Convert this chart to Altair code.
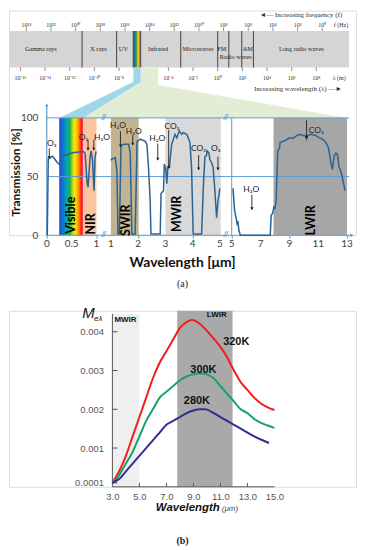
import altair as alt
import pandas as pd

# ====================== DATA ======================
# ---- (a) top strip: electromagnetic spectrum, positions as log10(wavelength / m)
strip_extent = [-16.9, 10.65]
strip_dividers = [-11.0, -8.2, -6.85, -6.25, -3.0, 0.0, 0.9, 1.95, 2.9]
strip_names = ["Gamma rays", "X rays", "UV", "Infrared", "Microwaves", "FM", "AM",
               "Radio waves", "Long radio waves"]
strip_name_at = [-14.35, -9.67, -7.65, -4.83, -1.6, 0.33, 2.43, 1.46, 6.78]
strip_name_row = [0, 0, 0, 0, 0, 0, 0, 1, 0]
freq_exps = [24, 22, 20, 18, 16, 14, 12, 10, 8, 6, 4, 2, 0]      # f = 10^n Hz
wave_exps = [-16, -14, -12, -10, -8, -4, -2, 0, 2, 4, 6, 8]       # lambda = 10^n m
visible_strip = [-6.85, -6.25]
infrared_strip = [-6.25, -4.83]

# ---- (a) atmospheric transmission, three axis segments
seg1_wl = [0.01, 0.03, 0.07, 0.11, 0.16, 0.21, 0.25, 0.30, 0.35, 0.45, 0.55, 0.65,
           0.73, 0.77, 0.81, 0.83, 0.87, 0.89, 0.92, 0.95, 0.97, 0.99, 1.0]
seg1_tr = [0, 65, 66, 67.5, 65, 62, 60.5, 66, 68, 69.5, 70.5, 71,
           71.5, 70, 45, 41, 66, 72, 64, 38, 66, 71, 71]
seg2_wl = [1.0, 1.04, 1.16, 1.22, 1.26, 1.31, 1.37, 1.47, 1.65, 1.71, 1.77, 1.89,
           1.96, 2.08, 2.26, 2.32, 2.38, 2.44, 2.47, 2.81, 2.84, 2.93, 2.96, 3.01,
           3.05, 3.09, 3.15, 3.17, 3.23, 3.35, 3.42, 3.51, 3.60, 3.66, 3.78, 3.84,
           3.90, 3.96, 4.02, 4.33, 4.39, 4.45, 4.51, 4.53, 4.60, 4.63, 4.69, 4.75,
           4.81, 4.88, 4.93, 5.0]
seg2_tr = [64, 65, 66, 55, 1, 1, 76, 77.5, 77.5, 70, 1, 1,
           80, 82, 80, 77.5, 58, 30, 1, 1, 35.6, 38, 60.7, 57,
           44, 58, 58, 64, 77.5, 86, 83, 89, 86, 87.5, 86, 83,
           79, 58, 1, 1, 40, 67, 68, 72, 70, 64.5, 62, 58,
           40, 15, 29, 40]
seg3_wl = [5.09, 5.2, 5.3, 5.37, 5.43, 5.5, 5.6, 7.67, 7.74, 7.85, 7.92, 8.01, 8.08,
           8.19, 8.31, 8.36, 8.54, 8.77, 9.0, 9.23, 9.46, 9.69, 9.92, 10.08, 10.19,
           10.26, 10.5, 10.84, 11.07, 11.3, 11.53, 11.71, 11.88, 11.99, 12.1, 12.22,
           12.33, 12.45, 12.56, 12.68, 12.86]
seg3_tr = [40, 21, 15, 10, 12, 4, 0, 0, 17, 19, 24, 23, 30,
           72, 74, 79, 80, 81, 83, 82.5, 84.5, 86, 85, 85, 82,
           85, 86, 85, 83, 82, 79, 74.6, 62, 56, 67.6, 70,
           69, 57.7, 55, 49, 38]

band_names = ["Visible", "NIR", "SWIR", "MWIR", "LWIR"]
band_from = [0.25, 0.73, 1.0, 3.0, 7.9]
band_to = [0.73, 1.0, 2.02, 5.03, 13.0]
band_seg = [1, 1, 2, 2, 3]
band_colors = ["#000000", "#fac4a0", "#c3b491", "#d9d9d9", "#a6a6a6"]
band_label_wl = [0.48, 0.88, 1.57, 3.43, 10.52]
band_label_tr = [17, 9.7, 12.7, 18.2, 12.7]

gas_text = ["O\u2083", "O\u2082", "H\u2082O", "H\u2082O", "H\u2082O", "H\u2082O",
            "CO\u2082", "CO\u2082", "O\u2083", "H\u2082O", "CO\u2082"]
gas_text_wl = [0.10, 0.74, 1.11, 1.26, 1.84, 2.70, 3.24, 4.22, 4.85, 6.36, 10.86]
gas_text_seg = [1, 1, 1, 2, 2, 2, 2, 2, 2, 3, 3]
gas_text_tr = [78.8, 83.5, 83.5, 93.8, 89.0, 83.0, 93.2, 74.0, 74.0, 39.6, 89.6]
gas_arrow_wl = [0.05, 0.83, 0.946, 1.35, 1.80, 2.72, 3.12, 4.22, 4.93, 6.40, 10.19]
gas_arrow_seg = [1, 1, 1, 2, 2, 2, 2, 2, 2, 3, 3]
gas_arrow_from = [74.0, 81.4, 81.4, 88.7, 85.3, 78.2, 89.6, 68.4, 67.0, 34.5, 98.0]
gas_arrow_to = [65.5, 72.6, 72.6, 75.4, 76.9, 64.0, 57.0, 55.7, 55.7, 21.8, 82.5]

axis_tick_wl = [0, 0.5, 1, 1, 2, 3, 4, 5, 5, 7, 9, 11, 13]
axis_tick_seg = [1, 1, 1, 2, 2, 2, 2, 2, 3, 3, 3, 3, 3]
axis_tick_text = ["0", "0.5", "1", "1", "2", "3", "4", "5", "5", "7", "9", "11", "13"]
grid_tr = [50, 100]

# ---- (b) blackbody spectral exitance
wl_320 = [3.0, 3.5, 4.0, 4.5, 5.0, 5.5, 6.0, 6.5, 7.0, 7.5, 8.0, 8.5, 8.9, 9.3, 9.8,
          10.3, 10.8, 11.4, 12.0, 12.5, 13.0, 13.5, 14.0, 14.5, 15.0]
m_320 = [0.0001, 0.0004, 0.0008, 0.0013, 0.0018, 0.0023, 0.0028, 0.0032, 0.0035,
         0.0038, 0.0041, 0.00425, 0.0043, 0.00425, 0.0041, 0.0039, 0.0037, 0.0034,
         0.0030, 0.0027, 0.0025, 0.0023, 0.00215, 0.00205, 0.00198]
wl_300 = [3.0, 3.5, 4.0, 4.5, 5.0, 5.5, 6.0, 6.5, 7.0, 7.5, 8.0, 8.5, 9.0, 9.5, 10.0,
          10.5, 11.0, 11.5, 12.0, 12.5, 13.0, 13.5, 14.0, 14.5, 15.0]
m_300 = [0.0001, 0.0003, 0.0006, 0.0009, 0.0013, 0.0017, 0.0020, 0.0023, 0.00245,
         0.0026, 0.00275, 0.00285, 0.0029, 0.00293, 0.0029, 0.0028, 0.0026, 0.0024,
         0.0022, 0.0020, 0.0019, 0.00175, 0.00165, 0.00158, 0.00152]
wl_280 = [3.0, 3.5, 4.0, 4.5, 5.0, 5.5, 6.0, 6.5, 7.0, 7.5, 8.0, 8.5, 9.0, 9.5, 9.9,
          10.5, 11.0, 11.5, 12.0, 12.5, 13.0, 13.5, 14.0, 14.6]
m_280 = [0.0001, 0.0002, 0.0004, 0.0006, 0.0008, 0.001, 0.0012, 0.0014, 0.0016,
         0.0017, 0.0018, 0.0019, 0.00197, 0.002, 0.002, 0.0019, 0.0018, 0.0017,
         0.0016, 0.0015, 0.0014, 0.0013, 0.00122, 0.00113]
curve_names = ["320K", "300K", "280K"]
curve_colors = ["#f21d1d", "#16a06c", "#2f2f8f"]
mwir_range = [3.0, 5.0]
lwir_range = [7.8, 11.9]
b_yticks = [0.0001, 0.001, 0.002, 0.003, 0.004]
b_xticks = [3, 5, 7, 9, 11, 13, 15]
b_inner_xticks = [5, 7, 9, 11, 13]

# ====================== LAYOUT HELPERS ======================
BLUE = "#5b9bd5"
SUP = str.maketrans("-0123456789", "\u207b\u2070\u00b9\u00b2\u00b3\u2074\u2075\u2076\u2077\u2078\u2079")


def pow10(n):
    return "10" + str(n).translate(SUP)


def u_strip(e):          # log10(lambda/m) -> horizontal position of panel (a)
    return 19.5 + (e + 16.0) * 12.4


def u_tr(wl, seg):       # wavelength (um) on the broken axis -> horizontal position
    if seg == 1:
        return 46 + 50 * wl
    if seg == 2:
        return 110.5 + 27.4 * (wl - 1)
    return 232 + 14.5 * (wl - 5)


S_BOT, S_TOP = 143.0, 174.0
XS = alt.Scale(domain=[8, 357], nice=False, zero=False)
YS = alt.Scale(domain=[0, 191.5], nice=False, zero=False)


def xa(f="u"):
    return alt.X(f"{f}:Q", scale=XS)


def ya(f="T"):
    return alt.Y(f"{f}:Q", scale=YS)


layers = []

# ---- strip background
strip_df = pd.DataFrame({"u": [u_strip(strip_extent[0])], "u2": [u_strip(strip_extent[1])],
                         "T": [S_BOT], "T2": [S_TOP]})
layers.append(alt.Chart(strip_df).mark_rect(color="#d5d5d5").encode(
    x=xa(), x2="u2:Q", y=ya(), y2="T2:Q"))
rb_df = pd.DataFrame({"u": [u_strip(visible_strip[0])], "u2": [u_strip(visible_strip[1])],
                      "T": [S_BOT], "T2": [S_TOP]})
strip_grad = alt.LinearGradient(gradient="linear", x1=0, x2=1, y1=0, y2=0, stops=[
    alt.GradientStop(color="#1d4f6e", offset=0), alt.GradientStop(color="#1c8a80", offset=0.3),
    alt.GradientStop(color="#48b040", offset=0.5), alt.GradientStop(color="#ece030", offset=0.65),
    alt.GradientStop(color="#f08a28", offset=0.8), alt.GradientStop(color="#d8302a", offset=1)])
layers.append(alt.Chart(rb_df).mark_rect(color=strip_grad).encode(
    x=xa(), x2="u2:Q", y=ya(), y2="T2:Q"))
div_df = pd.DataFrame({"u": [u_strip(e) for e in strip_dividers], "T": S_BOT, "T2": S_TOP})
layers.append(alt.Chart(div_df).mark_rule(color="#505050", strokeWidth=1.1).encode(
    x=xa(), y=ya(), y2="T2:Q"))
ft_df = pd.DataFrame({"u": [u_strip(8.477 - f) for f in freq_exps], "T": S_TOP, "T2": S_TOP + 3,
                      "lab": [pow10(f) for f in freq_exps]})
wt_df = pd.DataFrame({"u": [u_strip(e) for e in wave_exps], "T": S_BOT - 3, "T2": S_BOT,
                      "lab": [pow10(e) for e in wave_exps]})
for d in (ft_df, wt_df):
    layers.append(alt.Chart(d).mark_rule(color="#707070", strokeWidth=0.8).encode(
        x=xa(), y=ya(), y2="T2:Q"))
layers.append(alt.Chart(ft_df.assign(T=S_TOP + 5.5)).mark_text(
    font="Liberation Serif", fontSize=6, color="#333").encode(x=xa(), y=ya(), text="lab:N"))
layers.append(alt.Chart(wt_df.assign(T=S_BOT - 9)).mark_text(
    font="Liberation Serif", fontSize=6, color="#333").encode(x=xa(), y=ya(), text="lab:N"))
unit_df = pd.DataFrame({"u": [u_strip(10.0), u_strip(9.85)], "T": [S_TOP + 5.5, S_BOT - 9],
                        "lab": ["f (Hz)", "\u03bb (m)"]})
layers.append(alt.Chart(unit_df).mark_text(font="Liberation Serif", fontSize=6, color="#333").encode(
    x=xa(), y=ya(), text="lab:N"))
name_df = pd.DataFrame({"u": [u_strip(e) for e in strip_name_at],
                        "T": [(S_BOT + S_TOP) / 2 - 7 * r for r in strip_name_row],
                        "lab": strip_names})
layers.append(alt.Chart(name_df).mark_text(font="Liberation Serif", fontSize=6.3, color="#222").encode(
    x=xa(), y=ya(), text="lab:N"))
inc_df = pd.DataFrame({"u": [u_strip(10.1), u_strip(10.1)], "T": [188, 124.5],
                       "lab": ["\u25c4\u2014 Increasing frequency (f)",
                               "Increasing wavelength (\u03bb) \u2014\u25ba"]})
layers.append(alt.Chart(inc_df).mark_text(font="Liberation Serif", fontSize=7, color="#333",
                                          align="right").encode(x=xa(), y=ya(), text="lab:N"))

# ---- connecting wedges
k_hi, k_lo = 130.5, 128.0
uv0, uv1 = u_strip(visible_strip[0]), u_strip(visible_strip[1])
ui1 = u_strip(infrared_strip[1])
bv0, bv1 = u_tr(band_from[0], 1), u_tr(band_to[0], 1)
bir1 = u_tr(band_to[4], 3)
blue_w = pd.DataFrame({"T": [S_BOT, k_hi, 100], "u": [uv0, uv0, bv0], "u2": [uv1, uv1, bv1]})
left_at_klo = uv1 - (uv1 - bv1) * (k_hi - k_lo) / (k_hi - 100)
green_w = pd.DataFrame({"T": [S_BOT, k_hi, k_lo, 100], "u": [uv1, uv1, left_at_klo, bv1],
                        "u2": [ui1, ui1, ui1, bir1]})
layers.append(alt.Chart(green_w).mark_area(orient="horizontal", color="#e3edd6").encode(
    y=ya(), x=xa(), x2="u2:Q"))
layers.append(alt.Chart(blue_w).mark_area(orient="horizontal", color="#9fd6ea").encode(
    y=ya(), x=xa(), x2="u2:Q"))

# ---- spectral band boxes
box_df = pd.DataFrame({"u": [u_tr(a, s) for a, s in zip(band_from, band_seg)],
                       "u2": [u_tr(b, s) for b, s in zip(band_to, band_seg)],
                       "T": 0, "T2": 100, "c": band_colors, "name": band_names})
vis_grad = alt.LinearGradient(gradient="linear", x1=0, x2=1, y1=0, y2=0, stops=[
    alt.GradientStop(color="#3f3fd8", offset=0), alt.GradientStop(color="#0a6fd0", offset=0.12),
    alt.GradientStop(color="#00a6b8", offset=0.3), alt.GradientStop(color="#22b04a", offset=0.45),
    alt.GradientStop(color="#c8e020", offset=0.58), alt.GradientStop(color="#ffe800", offset=0.66),
    alt.GradientStop(color="#ff9a00", offset=0.8), alt.GradientStop(color="#ff1a10", offset=0.93),
    alt.GradientStop(color="#ff3c8c", offset=1)])
layers.append(alt.Chart(box_df.iloc[[0]]).mark_rect(color=vis_grad).encode(
    x=xa(), x2="u2:Q", y=ya(), y2="T2:Q"))
layers.append(alt.Chart(box_df.iloc[1:]).mark_rect().encode(
    x=xa(), x2="u2:Q", y=ya(), y2="T2:Q", color=alt.Color("c:N", scale=None)))

# ---- frame lines
grid_df = pd.DataFrame({"T": grid_tr, "u": 46, "u2": 350})
layers.append(alt.Chart(grid_df).mark_rule(color=BLUE, strokeWidth=1).encode(
    y=ya(), x=xa(), x2="u2:Q"))
vline_df = pd.DataFrame({"u": [u_tr(5, 3)], "T": [0], "T2": [100]})
layers.append(alt.Chart(vline_df).mark_rule(color=BLUE, strokeWidth=1).encode(
    x=xa(), y=ya(), y2="T2:Q"))
yax_df = pd.DataFrame({"u": [46], "T": [0], "T2": [111]})
layers.append(alt.Chart(yax_df).mark_rule(color=BLUE, strokeWidth=1.2).encode(
    x=xa(), y=ya(), y2="T2:Q"))
xax_df = pd.DataFrame({"u": [46], "u2": [353], "T": [0]})
layers.append(alt.Chart(xax_df).mark_rule(color=BLUE, strokeWidth=1.2).encode(
    x=xa(), x2="u2:Q", y=ya()))
head_df = pd.DataFrame({"u": [46, 353], "T": [111, 0], "s": ["triangle-up", "triangle-right"]})
layers.append(alt.Chart(head_df).mark_point(filled=True, size=14, color=BLUE, opacity=1).encode(
    x=xa(), y=ya(), shape=alt.Shape("s:N", scale=None)))
brk_u = [(u_tr(1, 1) + u_tr(1, 2)) / 2, (u_tr(5, 2) + u_tr(5, 3)) / 2]
brk_df = pd.DataFrame({"u": brk_u * 2, "T": [0, 0, 100, 100]})
layers.append(alt.Chart(brk_df).mark_text(text="//", font="Lato", fontSize=8, fontWeight="bold",
                                          color=BLUE).encode(x=xa(), y=ya()))

# ---- transmission curve (carries the axes)
curve_rows = []
for s, (wls, trs) in enumerate([(seg1_wl, seg1_tr), (seg2_wl, seg2_tr), (seg3_wl, seg3_tr)], start=1):
    for i, (w, t) in enumerate(zip(wls, trs)):
        curve_rows.append({"u": u_tr(w, s), "T": t, "seg": s, "i": i})
curve_df = pd.DataFrame(curve_rows)
tick_u = [u_tr(w, s) for w, s in zip(axis_tick_wl, axis_tick_seg)]
layers.append(alt.Chart(curve_df).mark_line(color="#2b6494", strokeWidth=1.5).encode(
    x=alt.X("u:Q", scale=XS, axis=alt.Axis(
        values=tick_u, labels=False, domain=False, ticks=True, tickSize=3,
        tickColor=BLUE, grid=False, title=None)),
    y=alt.Y("T:Q", scale=YS, axis=alt.Axis(
        values=[0, 50, 100], offset=-38, domain=False, ticks=False, grid=False,
        labelPadding=9, labelFont="Lato", labelFontSize=10, labelColor="#404040", title=None)),
    detail="seg:N", order="i:Q"))
xl_df = pd.DataFrame({"u": tick_u, "T": -7.6, "lab": axis_tick_text})
layers.append(alt.Chart(xl_df).mark_text(font="Lato", fontSize=10, color="#404040").encode(
    x=xa(), y=ya(), text="lab:N"))
xt_df = pd.DataFrame({"u": [182.5], "T": [-23.7], "lab": ["Wavelength [\u03bcm]"]})
layers.append(alt.Chart(xt_df).mark_text(font="Lato", fontSize=14, fontWeight="bold",
                                         color="#111").encode(x=xa(), y=ya(), text="lab:N"))

# ---- gas annotations
arr_df = pd.DataFrame({"u": [u_tr(w, s) for w, s in zip(gas_arrow_wl, gas_arrow_seg)],
                       "T": gas_arrow_from, "T2": gas_arrow_to})
layers.append(alt.Chart(arr_df).mark_rule(color="#222", strokeWidth=0.9).encode(
    x=xa(), y=ya(), y2="T2:Q"))
layers.append(alt.Chart(arr_df).mark_point(shape="triangle-down", filled=True, size=10,
                                           color="#222", opacity=1, yOffset=-1).encode(
    x=xa(), y=ya("T2")))
gas_df = pd.DataFrame({"u": [u_tr(w, s) for w, s in zip(gas_text_wl, gas_text_seg)],
                       "T": gas_text_tr, "lab": gas_text})
layers.append(alt.Chart(gas_df).mark_text(font="Lato", fontSize=8.5, color="#222").encode(
    x=xa(), y=ya(), text="lab:N"))

# ---- band labels and y title
bl_df = pd.DataFrame({"u": [u_tr(w, s) for w, s in zip(band_label_wl, band_seg)],
                      "T": band_label_tr, "lab": band_names})
layers.append(alt.Chart(bl_df).mark_text(font="Lato", fontSize=12.5, fontWeight="bold",
                                         color="#000", angle=270).encode(x=xa(), y=ya(), text="lab:N"))
yt_df = pd.DataFrame({"u": [15.5], "T": [53.4], "lab": ["Transmission [%]"]})
layers.append(alt.Chart(yt_df).mark_text(font="Lato", fontSize=12, fontWeight="bold",
                                         color="#111", angle=270).encode(x=xa(), y=ya(), text="lab:N"))

panel_a = alt.layer(*layers).properties(
    width=349, height=226,
    title=alt.TitleParams("(a)", orient="bottom", font="Liberation Serif", fontSize=10,
                          fontWeight="normal", color="#222", offset=9))

# ====================== PANEL (b) ======================
XB = alt.Scale(domain=[-4.658, 21.04], nice=False, zero=False)
YB = alt.Scale(domain=[0, 0.00454], nice=False, zero=False)


def xb(f="w"):
    return alt.X(f"{f}:Q", scale=XB)


def yb(f="m"):
    return alt.Y(f"{f}:Q", scale=YB)


bl = []
reg_df = pd.DataFrame({"w": [mwir_range[0], lwir_range[0]], "w2": [mwir_range[1], lwir_range[1]],
                       "m": [0, 0], "m2": [0.00446, 0.00454], "c": ["#efefef", "#a9a9a9"]})
bl.append(alt.Chart(reg_df).mark_rect().encode(x=xb(), x2="w2:Q", y=yb(), y2="m2:Q",
                                                color=alt.Color("c:N", scale=None)))
bax_df = pd.DataFrame({"w": [3, 3], "w2": [3, 15], "m": [0, 0], "m2": [0.00446, 0]})
bl.append(alt.Chart(bax_df.iloc[[0]]).mark_rule(color="#555", strokeWidth=1).encode(
    x=xb(), y=yb(), y2="m2:Q"))
bl.append(alt.Chart(bax_df.iloc[[1]]).mark_rule(color="#555", strokeWidth=1).encode(
    x=xb(), x2="w2:Q", y=yb()))
ytk_df = pd.DataFrame({"m": b_yticks, "w": 3, "w2": 3.37})
bl.append(alt.Chart(ytk_df).mark_rule(color="#555", strokeWidth=1).encode(
    y=yb(), x=xb(), x2="w2:Q"))
xtk_df = pd.DataFrame({"w": b_inner_xticks, "m": 0, "m2": 0.0001})
bl.append(alt.Chart(xtk_df).mark_rule(color="#555", strokeWidth=1).encode(
    x=xb(), y=yb(), y2="m2:Q"))

crv = []
for name, ws, ms in zip(curve_names, [wl_320, wl_300, wl_280], [m_320, m_300, m_280]):
    for i, (w, m) in enumerate(zip(ws, ms)):
        crv.append({"w": w, "m": m, "name": name, "i": i})
crv_df = pd.DataFrame(crv)
bl.append(alt.Chart(crv_df).mark_line(strokeWidth=2, interpolate="monotone").encode(
    x=alt.X("w:Q", scale=XB, axis=alt.Axis(
        values=b_xticks, format=".1f", domain=False, ticks=False, grid=False, labelPadding=5,
        labelFont="Liberation Sans", labelFontSize=9.5, labelColor="#555", title=None,
        labelFlush=False, labelOverlap=False)),
    y=alt.Y("m:Q", scale=YB, axis=alt.Axis(
        values=b_yticks, format="~g", offset=-104, domain=False, ticks=False, grid=False,
        labelPadding=9, labelFont="Liberation Sans", labelFontSize=9.5, labelColor="#555",
        title=None, labelOverlap=False)),
    color=alt.Color("name:N", scale=alt.Scale(domain=curve_names, range=curve_colors), legend=None),
    detail="name:N", order="i:Q"))

lab_df = pd.DataFrame({"w": [12.17, 9.74, 9.26], "m": [0.00374, 0.00302, 0.00222],
                       "lab": curve_names})
bl.append(alt.Chart(lab_df).mark_text(font="Liberation Sans", fontSize=11, fontWeight="bold",
                                      color="#111").encode(x=xb(), y=yb(), text="lab:N"))
reglab_df = pd.DataFrame({"w": [3.15, 10.73], "m": [0.00429, 0.00442], "lab": ["MWIR", "LWIR"]})
bl.append(alt.Chart(reglab_df.iloc[[0]]).mark_text(font="Liberation Sans", fontSize=8,
                                                   fontWeight="bold", color="#111", align="left").encode(
    x=xb(), y=yb(), text="lab:N"))
bl.append(alt.Chart(reglab_df.iloc[[1]]).mark_text(font="Liberation Sans", fontSize=8,
                                                   fontWeight="bold", color="#111").encode(
    x=xb(), y=yb(), text="lab:N"))
m_df = pd.DataFrame({"w": [1.23], "m": [0.00447], "lab": ["M"]})
bl.append(alt.Chart(m_df).mark_text(font="Liberation Sans", fontSize=15, fontStyle="italic",
                                    color="#111").encode(x=xb(), y=yb(), text="lab:N"))
sub_df = pd.DataFrame({"w": [1.95], "m": [0.00434], "lab": ["e\u03bb"]})
bl.append(alt.Chart(sub_df).mark_text(font="Liberation Sans", fontSize=8, fontStyle="italic",
                                      color="#111").encode(x=xb(), y=yb(), text="lab:N"))
wt_df = pd.DataFrame({"w": [10.95], "m": [-0.00056], "lab": ["Wavelength"]})
bl.append(alt.Chart(wt_df).mark_text(font="Liberation Sans", fontSize=11.5, fontStyle="italic",
                                     fontWeight="bold", color="#111", align="right").encode(
    x=xb(), y=yb(), text="lab:N"))
wu_df = pd.DataFrame({"w": [11.1], "m": [-0.00058], "lab": ["(\u03bcm)"]})
bl.append(alt.Chart(wu_df).mark_text(font="Liberation Sans", fontSize=8, fontStyle="italic",
                                     color="#444", align="left").encode(x=xb(), y=yb(), text="lab:N"))

panel_b = alt.layer(*bl).properties(
    width=349, height=177,
    title=alt.TitleParams("(b)", orient="bottom", font="Liberation Serif", fontSize=10,
                          fontWeight="bold", color="#222", offset=22))

chart = alt.vconcat(panel_a, panel_b, spacing=16).properties(padding=0).configure_view(
    stroke=None).configure(background="white")
chart.save("out.html", embed_options={"renderer": "svg", "actions": False})
